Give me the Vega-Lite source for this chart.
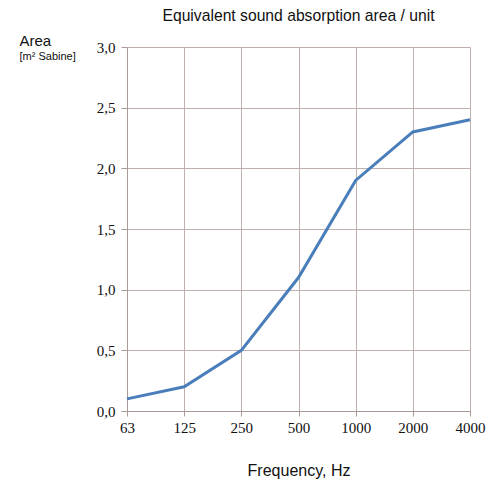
{
  "$schema": "https://vega.github.io/schema/vega-lite/v6.json",
  "width": 343,
  "height": 364,
  "autosize": {"type": "none"},
  "padding": {"left": 127, "top": 47, "right": 29, "bottom": 70},
  "background": "white",
  "title": {
    "text": "Equivalent sound absorption area / unit",
    "font": "Liberation Sans",
    "fontSize": 15.7,
    "fontWeight": "normal",
    "color": "#111111",
    "anchor": "middle",
    "offset": 8
  },
  "data": {
    "values": [
      {"freq": "63", "area": 0.1},
      {"freq": "125", "area": 0.2},
      {"freq": "250", "area": 0.5},
      {"freq": "500", "area": 1.1},
      {"freq": "1000", "area": 1.9},
      {"freq": "2000", "area": 2.3},
      {"freq": "4000", "area": 2.4}
    ]
  },
  "config": {
    "view": {"stroke": null},
    "axis": {
      "gridColor": "#bfb0ae",
      "gridOpacity": 1,
      "domainColor": "#a99a98",
      "tickColor": "#a99a98",
      "labelFont": "Liberation Serif",
      "labelFontSize": 15,
      "labelColor": "#111111"
    }
  },
  "resolve": {"axis": {"y": "independent"}},
  "layer": [
    {
      "mark": {"type": "line", "color": "#4a7ebb", "strokeWidth": 3},
      "encoding": {
        "x": {
          "field": "freq",
          "type": "ordinal",
          "sort": null,
          "scale": {"type": "point", "padding": 0},
          "axis": {
            "title": "Frequency, Hz",
            "titleFont": "Liberation Sans",
            "titleFontSize": 16,
            "titleFontWeight": "normal",
            "titleColor": "#111111",
            "titlePadding": 27,
            "labelAngle": 0,
            "tickSize": 5,
            "labelPadding": 4,
            "grid": true
          }
        },
        "y": {
          "field": "area",
          "type": "quantitative",
          "scale": {"domain": [0, 3], "nice": false},
          "axis": {
            "values": [0, 0.5, 1, 1.5, 2, 2.5, 3],
            "labelExpr": "replace(format(datum.value, '.1f'), '.', ',')",
            "tickSize": 6,
            "labelPadding": 6,
            "grid": true,
            "title": "Area",
            "titleFont": "Liberation Sans",
            "titleFontSize": 15,
            "titleFontWeight": "normal",
            "titleColor": "#111111",
            "titleAngle": 0,
            "titleAlign": "left",
            "titleBaseline": "alphabetic",
            "titleX": -108,
            "titleY": -2
          }
        }
      }
    },
    {
      "mark": {"type": "line", "color": "#4a7ebb", "strokeWidth": 3, "opacity": 0},
      "encoding": {
        "x": {"field": "freq", "type": "ordinal", "sort": null},
        "y": {
          "field": "area",
          "type": "quantitative",
          "axis": {
            "orient": "left",
            "labels": false,
            "ticks": false,
            "domain": false,
            "grid": false,
            "title": "[m² Sabine]",
            "titleFont": "Liberation Sans",
            "titleFontSize": 11,
            "titleFontWeight": "normal",
            "titleColor": "#111111",
            "titleAngle": 0,
            "titleAlign": "left",
            "titleBaseline": "alphabetic",
            "titleX": -108,
            "titleY": 12
          }
        }
      }
    }
  ]
}
